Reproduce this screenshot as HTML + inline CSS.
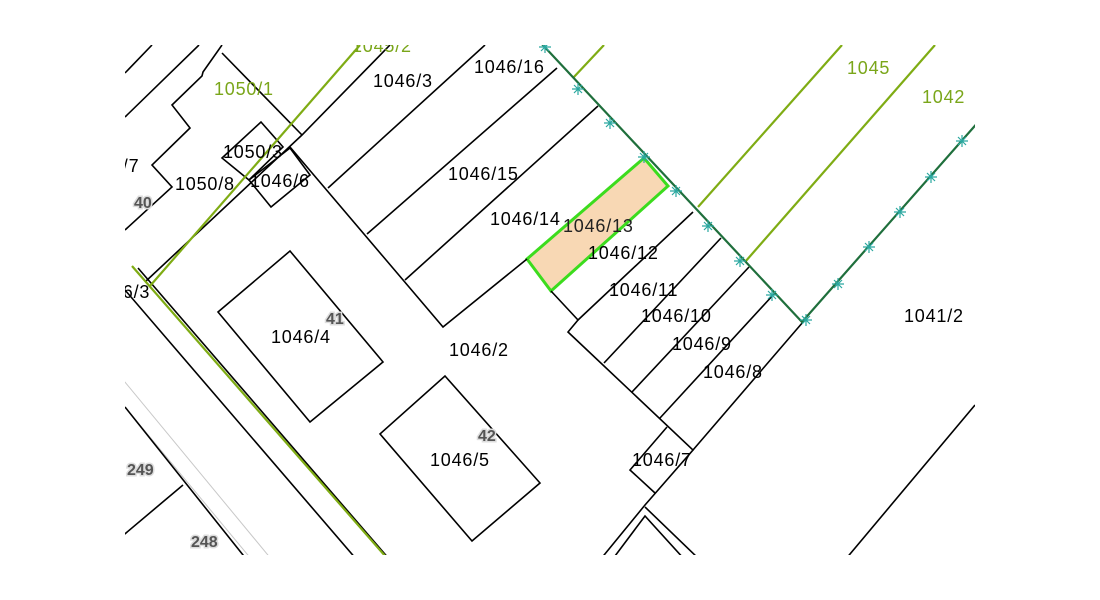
<!DOCTYPE html>
<html><head><meta charset="utf-8"><style>
html,body{margin:0;padding:0;background:#fff;width:1100px;height:600px;overflow:hidden}
svg{display:block}
text{font-family:"Liberation Sans",sans-serif;font-size:18px;letter-spacing:0.8px}
.g{fill:#7aa61a}
.n{fill:#555;font-weight:bold;font-size:16px;letter-spacing:0;stroke:#ddd;stroke-width:3px;paint-order:stroke}
</style></head><body>
<svg width="1100" height="600" viewBox="0 0 1100 600">
<defs><clipPath id="c"><rect x="125" y="45" width="850" height="510"/></clipPath></defs>
<g clip-path="url(#c)" fill="none" stroke-linejoin="miter">
<g stroke="#c8c8c8" stroke-width="1">
<line x1="115" y1="370" x2="272" y2="560"/>
<line x1="115" y1="395" x2="252" y2="560"/>
</g>
<polygon points="644,158 668,186 551,291 527,259" fill="#f8d8b4" stroke="#3cdc1e" stroke-width="3"/>
<g stroke="#000" stroke-width="1.6">
<line x1="125" y1="73" x2="152" y2="45"/>
<line x1="125" y1="117" x2="199" y2="45"/>
<polyline points="222,45 203,72 202,76 172,105 190,128 152,165 172,187 125,230"/>
<polyline points="222,53 302,135"/>
<polygon points="261,122 283,147 249,180 222,158"/>
<polygon points="290,148 310,175 271,207 249,180"/>
<polyline points="145,282 302,135 390,45"/>
<polyline points="290,147 443,327 527,259"/>
<line x1="328" y1="188" x2="485" y2="45"/>
<line x1="367" y1="234" x2="557" y2="68"/>
<line x1="405" y1="280" x2="598" y2="106"/>
<polyline points="551,291 578,320 568,332 693,450 645,505 600,560"/>
<line x1="578" y1="320" x2="693" y2="212"/>
<line x1="604" y1="363" x2="721" y2="238"/>
<line x1="632" y1="392" x2="749" y2="267"/>
<line x1="660" y1="418" x2="774" y2="294"/>
<line x1="693" y1="450" x2="803" y2="322"/>
<polyline points="667,427 630,470 655,493"/>
<polyline points="645,507 700,560"/>
<polyline points="612,560 645,516 685,560"/>
<line x1="975" y1="405" x2="845" y2="560"/>
<polygon points="290,251 383,362 310,422 218,312"/>
<polygon points="445,376 540,483 472,541 380,434"/>
<line x1="125" y1="290" x2="357" y2="560"/>
<line x1="138" y1="268" x2="390" y2="560"/>
<line x1="125" y1="407" x2="247" y2="560"/>
<line x1="183" y1="485" x2="120" y2="538"/>
</g>
<g stroke="#7fac14" stroke-width="2.2">
<line x1="150" y1="286" x2="360" y2="45"/>
<line x1="132" y1="266" x2="386" y2="557"/>
<line x1="573" y1="78" x2="604" y2="45"/>
<line x1="698" y1="207" x2="842" y2="45"/>
<line x1="745" y1="262" x2="935" y2="45"/>
</g>
<polyline points="540,42 802,322 980,120" stroke="#1f6f3c" stroke-width="2.2"/>
<g stroke="#2aa8a0" stroke-width="1.2">
<path d="M539 47h12M545 41v12M541 43l8 8M549 43l-8 8"/>
<path d="M572 89h12M578 83v12M574 85l8 8M582 85l-8 8"/>
<path d="M604 123h12M610 117v12M606 119l8 8M614 119l-8 8"/>
<path d="M638 157h12M644 151v12M640 153l8 8M648 153l-8 8"/>
<path d="M670 191h12M676 185v12M672 187l8 8M680 187l-8 8"/>
<path d="M702 226h12M708 220v12M704 222l8 8M712 222l-8 8"/>
<path d="M734 261h12M740 255v12M736 257l8 8M744 257l-8 8"/>
<path d="M766 295h12M772 289v12M768 291l8 8M776 291l-8 8"/>
<path d="M800 320h12M806 314v12M802 316l8 8M810 316l-8 8"/>
<path d="M832 284h12M838 278v12M834 280l8 8M842 280l-8 8"/>
<path d="M863 247h12M869 241v12M865 243l8 8M873 243l-8 8"/>
<path d="M894 212h12M900 206v12M896 208l8 8M904 208l-8 8"/>
<path d="M925 177h12M931 171v12M927 173l8 8M935 173l-8 8"/>
<path d="M956 141h12M962 135v12M958 137l8 8M966 137l-8 8"/>
</g>
<g stroke="none">
<text class="g" x="352" y="52">1045/2</text>
<text x="762" y="48">1039/1</text>
<text class="g" x="214" y="95">1050/1</text>
<text class="g" x="847" y="74">1045</text>
<text class="g" x="922" y="103">1042</text>
<text fill="#000" x="373" y="87">1046/3</text>
<text fill="#000" x="474" y="73">1046/16</text>
<text fill="#000" x="448" y="180">1046/15</text>
<text fill="#000" x="490" y="225">1046/14</text>
<text fill="#222" x="563" y="232">1046/13</text>
<text fill="#000" x="588" y="259">1046/12</text>
<text fill="#000" x="609" y="296">1046/11</text>
<text fill="#000" x="641" y="322">1046/10</text>
<text fill="#000" x="672" y="350">1046/9</text>
<text fill="#000" x="703" y="378">1046/8</text>
<text fill="#000" x="632" y="466">1046/7</text>
<text fill="#000" x="904" y="322">1041/2</text>
<text fill="#000" x="223" y="158">1050/3</text>
<text fill="#000" x="250" y="187">1046/6</text>
<text fill="#000" x="175" y="190">1050/8</text>
<text fill="#000" x="112" y="172">0/7</text>
<text fill="#000" x="112" y="298">76/3</text>
<text fill="#000" x="271" y="343">1046/4</text>
<text fill="#000" x="449" y="356">1046/2</text>
<text fill="#000" x="430" y="466">1046/5</text>
<text class="n" x="134" y="208">40</text>
<text class="n" x="326" y="324">41</text>
<text class="n" x="478" y="441">42</text>
<text class="n" x="127" y="475">249</text>
<text class="n" x="191" y="547">248</text>
</g>
</g>
</svg>
</body></html>
